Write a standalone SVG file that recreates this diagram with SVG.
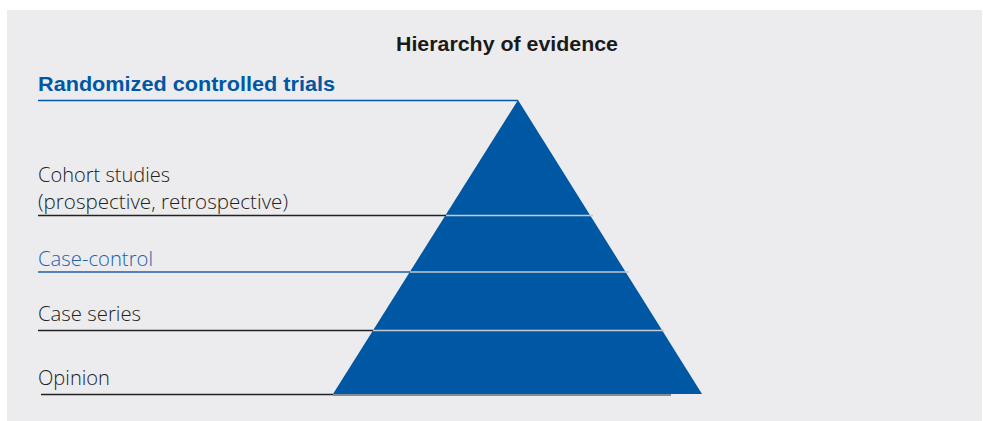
<svg xmlns="http://www.w3.org/2000/svg" width="983" height="421" viewBox="0 0 983 421">
<style>
.lbl{font-family:"Open Sans","Liberation Sans",sans-serif;font-size:20px;font-weight:300;fill:#222}
.blue{fill:#1f5fa8}
.hd{font-family:"Liberation Sans",Arial,sans-serif;font-weight:bold}
.sep{stroke:#c4c9d2;stroke-width:1.5}
.ln{stroke:#222;stroke-width:1.3}
</style>
<rect x="7" y="10" width="975" height="411" fill="#ececee"/>
<g id="title"><text class="hd" x="507" y="51" font-size="20.5" fill="#1a1a1a" text-anchor="middle" textLength="222" lengthAdjust="spacingAndGlyphs">Hierarchy of evidence</text></g>
<g id="pyramid">
<polygon points="518,100 702,394 333,394" fill="#0057a3"/>
<line class="sep" x1="445" y1="215.5" x2="593" y2="215.5"/>
<line class="sep" x1="410" y1="272" x2="629" y2="272"/>
<line class="sep" x1="373" y1="330.5" x2="664" y2="330.5"/>
</g>
<g id="connectors">
<line x1="38" y1="100.5" x2="518" y2="100.5" stroke="#0057a3" stroke-width="1.5"/>
<line class="ln" x1="38" y1="215.5" x2="446" y2="215.5"/>
<line x1="38" y1="272" x2="410" y2="272" stroke="#1f5fa8" stroke-width="1.3"/>
<line class="ln" x1="38" y1="330.5" x2="373" y2="330.5"/>
<line class="ln" x1="41" y1="394.5" x2="333" y2="394.5"/>
<line x1="333" y1="395" x2="671" y2="395" stroke="#1a2a44" stroke-width="1"/>
</g>
<g id="rct"><text class="hd" x="38" y="91" font-size="21" fill="#0057a3" textLength="297" lengthAdjust="spacingAndGlyphs">Randomized controlled trials</text></g>
<g id="cohort"><text class="lbl" x="38" y="182" textLength="132" lengthAdjust="spacingAndGlyphs">Cohort studies</text><text class="lbl" x="38" y="209" textLength="250" lengthAdjust="spacingAndGlyphs">(prospective, retrospective)</text></g>
<g id="casecontrol"><text class="lbl blue" x="38" y="266" textLength="115" lengthAdjust="spacingAndGlyphs">Case-control</text></g>
<g id="caseseries"><text class="lbl" x="38" y="321" textLength="103" lengthAdjust="spacingAndGlyphs">Case series</text></g>
<g id="opinion"><text class="lbl" x="38" y="385" textLength="72" lengthAdjust="spacingAndGlyphs">Opinion</text></g>
</svg>
